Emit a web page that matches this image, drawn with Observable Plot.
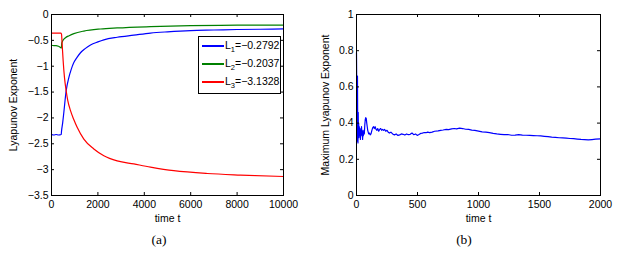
<!DOCTYPE html>
<html>
<head>
<meta charset="utf-8">
<script src="https://cdn.jsdelivr.net/npm/d3@7"></script>
<script src="https://cdn.jsdelivr.net/npm/@observablehq/plot@0.6"></script>
<style>
  html, body { margin: 0; padding: 0; background: #fff; }
  #wrap { position: relative; width: 624px; height: 254px; overflow: hidden; font-family: "Liberation Sans", Arial, sans-serif; color: #000; }
  .panel { position: absolute; top: 0; }
  .cap { position: absolute; top: 232px; line-height: 16px; font-family: "Liberation Serif", "Times New Roman", serif; font-size: 13.5px; transform: translateX(-50%); white-space: nowrap; }
  .legend { position: absolute; left: 198px; top: 36px; width: 83px; height: 58px; box-sizing: border-box; border: 1px solid #000; background: #fff; font-size: 10.5px; }
  .row { position: absolute; left: 0; height: 12px; width: 100%; }
  .swatch { position: absolute; left: 3px; top: 5px; width: 22px; height: 1.5px; }
  .lab { position: absolute; left: 26px; top: -1px; line-height: 12px; white-space: nowrap; }
  .lab sub { font-size: 7.5px; vertical-align: -3px; line-height: 0; }
</style>
</head>
<body>
<div id="wrap">
  <div id="pa" class="panel" style="left:0px"></div>
  <div id="pb" class="panel" style="left:312px"></div>
  <div class="legend" id="legend"></div>
  <div class="cap" style="left:159px">(a)</div>
  <div class="cap" style="left:464px">(b)</div>
</div>
<script>
// ---------- data: panel (a) ----------
const seriesNames = ["L1", "L2", "L3"];
const legendLabels = ["−0.2792", "−0.2037", "−3.1328"];

const tL1 = [0,100,200,300,420,431,480,530,632,747,850,963,1100,1250,1450,1681,2000,2256,2830,3549,4267,5000,6000,7000,8000,9000,10000];
const vL1 = [-2.32,-2.33,-2.32,-2.33,-2.32,-2.26,-2.1,-1.9,-1.475,-1.22,-1.06,-0.93,-0.83,-0.74,-0.66,-0.59,-0.53,-0.49,-0.44,-0.40,-0.36,-0.335,-0.31,-0.30,-0.29,-0.285,-0.2792];

const tL2 = [0,100,200,300,388,425,440,470,603,760,963,1394,2112,2830,4267,6000,8000,10000];
const vL2 = [-0.595,-0.6,-0.6,-0.615,-0.64,-0.65,-0.56,-0.52,-0.45,-0.41,-0.37,-0.32,-0.28,-0.26,-0.235,-0.215,-0.207,-0.2037];

const tL3 = [0,100,200,300,400,431,460,503,560,632,700,819,960,1106,1394,1825,2256,2830,3549,4267,5272,6710,8147,10000];
const vL3 = [-0.36,-0.36,-0.36,-0.36,-0.36,-0.38,-0.58,-0.9,-1.22,-1.475,-1.66,-1.86,-2.03,-2.18,-2.41,-2.60,-2.73,-2.83,-2.89,-2.95,-3.02,-3.075,-3.105,-3.1328];

const xTicksA = [0, 2000, 4000, 6000, 8000, 10000];
const yTicksA = [0, -0.5, -1, -1.5, -2, -2.5, -3, -3.5];

// ---------- data: panel (b) ----------
const tB = [
  0,2,4,6,8,10,12,14,16,18,
  20,23,26,29,32,35,38,41,44,47,
  50,53,56,60,64,68,72,76,80,84,
  88,92,96,100,106,112,119,126,133,140,
  146,153,160,167,174,182,190,198,206,214,
  222,230,240,250,260,270,282,296,311,325,
  340,354,368,382,396,411,425,440,455,469,
  484,498,512,526,540,555,570,583,600,620,
  640,669,690,710,735,755,780,800,820,845,
  870,895,920,945,970,1000,1030,1060,1090,1120,
  1150,1180,1210,1240,1270,1300,1330,1360,1390,1420,
  1450,1480,1510,1540,1570,1600,1630,1660,1690,1720,
  1750,1780,1810,1840,1870,1900,1930,1960,2000
];
const vB = [
  .79,.60,.30,.55,.66,.36,.29,.46,.34,.40,
  .32,.38,.33,.37,.31,.36,.33,.38,.34,.36,
  .31,.35,.33,.36,.34,.39,.42,.43,.425,.40,
  .38,.36,.35,.34,.345,.335,.34,.36,.375,.38,
  .37,.38,.365,.36,.37,.355,.365,.37,.36,.365,
  .36,.365,.355,.36,.35,.345,.35,.34,.335,.34,
  .332,.335,.34,.338,.334,.34,.336,.338,.345,.336,
  .34,.332,.337,.343,.345,.348,.347,.35,.347,.35,
  .355,.357,.36,.362,.365,.364,.368,.37,.368,.372,
  .37,.366,.365,.361,.36,.356,.352,.35,.347,.343,
  .34,.338,.336,.337,.333,.334,.336,.334,.333,.332,
  .331,.33,.329,.327,.325,.322,.321,.319,.318,.317,
  .315,.314,.312,.31,.309,.307,.309,.311,.313
];

const xTicksB = [0, 500, 1000, 1500, 2000];
const yTicksB = [0, 0.2, 0.4, 0.6, 0.8, 1];

// ---------- build ----------
const seriesT = [tL1, tL2, tL3];
const seriesV = [vL1, vL2, vL3];
const rowsA = seriesNames.flatMap((name, k) => seriesT[k].map((t, i) => ({t, v: seriesV[k][i], name})));
const rowsB = tB.map((t, i) => ({t, v: vB[i]}));

const colors = ["#0000ff", "#008000", "#ff0000"];
const font = {fontFamily: "'Liberation Sans', Arial, sans-serif", fontSize: "10.5px", color: "#000", background: "transparent", overflow: "visible"};
const W = 312, H = 225, TICK = 3;
const fmt = d => (d < 0 ? "−" : "") + String(Math.abs(d));

function panel({rows, ml, mr, mt, mb, xDomain, yDomain, xTicks, yTicks, yLabel, yLabelOffset, lineOpts, color}) {
  const ih = H - mt - mb, iw = W - ml - mr;
  return Plot.plot({
    width: W, height: H,
    marginLeft: ml, marginRight: mr, marginTop: mt, marginBottom: mb,
    style: font,
    x: {domain: xDomain},
    y: {domain: yDomain},
    color,
    marks: [
      Plot.line(rows, lineOpts),
      Plot.frame({stroke: "#000", strokeWidth: 1}),
      Plot.tickX(xTicks, {x: d => d, insetTop: ih - TICK, stroke: "#000"}),
      Plot.tickX(xTicks, {x: d => d, insetBottom: ih - TICK, stroke: "#000"}),
      Plot.tickY(yTicks, {y: d => d, insetLeft: iw - TICK, stroke: "#000"}),
      Plot.tickY(yTicks, {y: d => d, insetRight: iw - TICK, stroke: "#000"}),
      Plot.axisX(xTicks, {tickSize: 0, tickPadding: 5, tickFormat: fmt, label: "time t", labelAnchor: "center", labelArrow: "none", labelOffset: 26}),
      Plot.axisY(yTicks, {tickSize: 0, tickPadding: 3, tickFormat: fmt, label: yLabel, labelAnchor: "center", labelArrow: "none", labelOffset: yLabelOffset})
    ]
  });
}

document.getElementById("pa").append(panel({
  rows: rowsA, ml: 51, mr: 29, mt: 14, mb: 30,
  xDomain: [0, 10000], yDomain: [-3.5, 0],
  xTicks: xTicksA, yTicks: yTicksA,
  yLabel: "Lyapunov Exponent", yLabelOffset: 42,
  lineOpts: {x: "t", y: "v", stroke: "name", z: "name", strokeWidth: 1.2, curve: "monotone-x"},
  color: {domain: seriesNames, range: colors}
}));

document.getElementById("pb").append(panel({
  rows: rowsB, ml: 44, mr: 24, mt: 14, mb: 30,
  xDomain: [0, 2000], yDomain: [0, 1],
  xTicks: xTicksB, yTicks: yTicksB,
  yLabel: "Maximum Lyapunov Exponent", yLabelOffset: 35,
  lineOpts: {x: "t", y: "v", stroke: "#0000ff", strokeWidth: 1.2},
  color: undefined
}));

// legend (HTML overlay)
const leg = document.getElementById("legend");
seriesNames.forEach((name, k) => {
  const row = document.createElement("div");
  row.className = "row";
  row.style.top = (3 + k * 18) + "px";
  const sw = document.createElement("div");
  sw.className = "swatch";
  sw.style.background = colors[k];
  const lab = document.createElement("div");
  lab.className = "lab";
  lab.innerHTML = "L<sub>" + (k + 1) + "</sub>=" + legendLabels[k];
  row.append(sw, lab);
  leg.append(row);
});
</script>
</body>
</html>
